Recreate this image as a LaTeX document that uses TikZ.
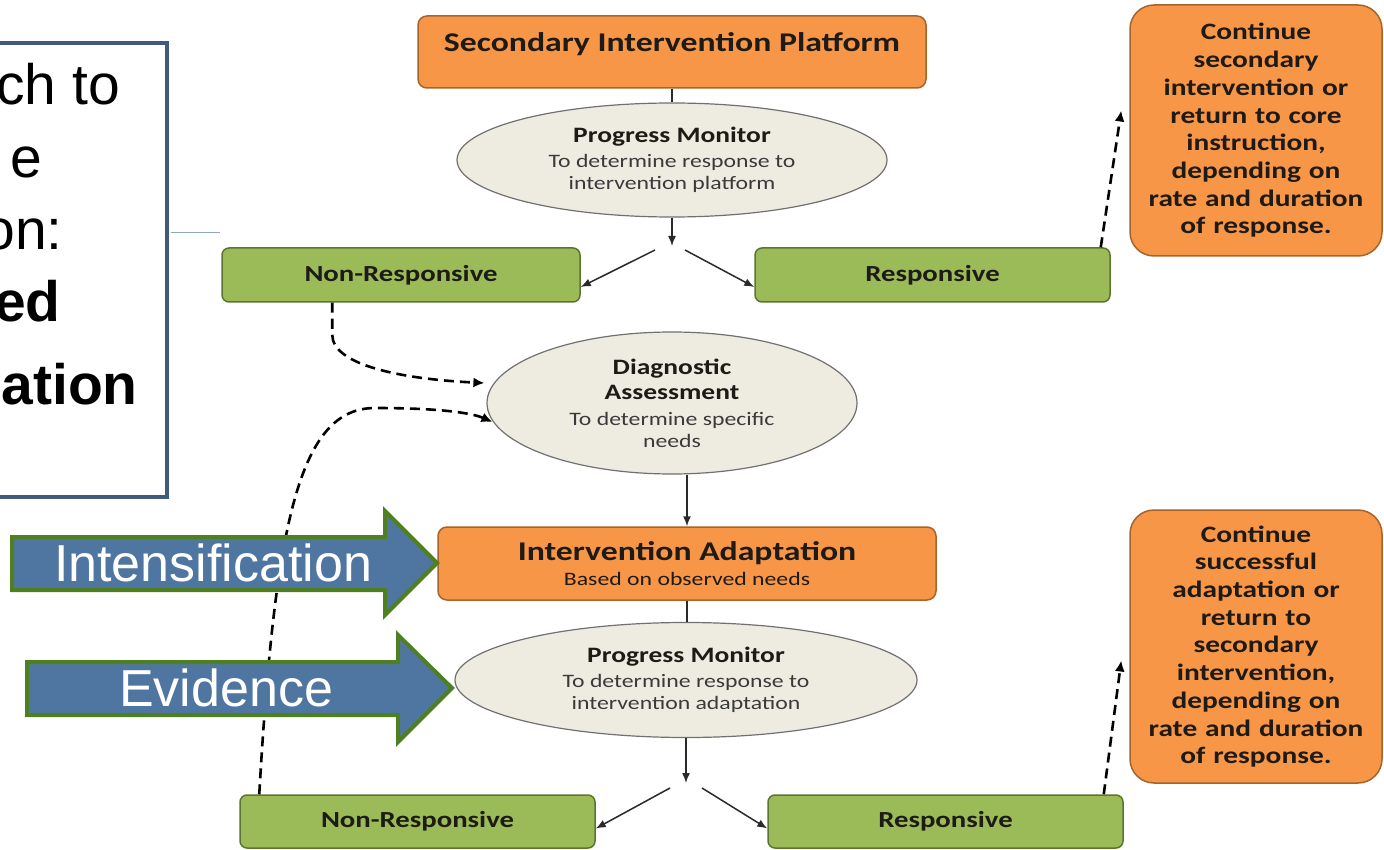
\documentclass[tikz,border=0pt]{standalone}
\usepackage{fontspec}
\setmainfont{Liberation Sans}
\newfontfamily\flow[FakeStretch=1.25]{Carlito}
\usetikzlibrary{shapes.geometric,arrows.meta,calc}

\definecolor{orfill}{HTML}{F79646}
\definecolor{ordraw}{HTML}{A5642C}
\definecolor{grfill}{HTML}{9BBB59}
\definecolor{grdraw}{HTML}{5B7530}
\definecolor{elfill}{HTML}{EEECE1}
\definecolor{eldraw}{HTML}{707070}
\definecolor{bluearrow}{HTML}{4F76A0}
\definecolor{greenedge}{HTML}{4F8020}
\definecolor{framecol}{HTML}{3F5A7C}
\definecolor{thinline}{HTML}{8DA6C6}
\definecolor{ink}{HTML}{1E1A16}
\definecolor{subink}{HTML}{3A3A3A}
\definecolor{connc}{HTML}{2A2A2A}

\newcommand{\smalltxt}{\flow\fontsize{19}{22}\selectfont}
\newcommand{\titletxt}{\bfseries\fontsize{22}{25}\selectfont}

\begin{document}
\begin{tikzpicture}[x=1pt,y=-1pt,
  orbox/.style={draw=ordraw, fill=orfill, line width=1.5pt, rounded corners=9pt, text=ink},
  sidebox/.style={orbox, rounded corners=24pt, text width=244pt, align=center,
    font=\flow\bfseries\fontsize{23.5}{27.7}\selectfont},
  grbox/.style={draw=grdraw, fill=grfill, line width=1.5pt, rounded corners=7pt, text=ink,
    font=\flow\bfseries\fontsize{23}{27}\selectfont},
  oval/.style={ellipse, draw=eldraw, fill=elfill, line width=1.2pt, inner sep=0pt,
    align=center, text=subink, font=\smalltxt},
  conn/.style={draw=connc, line width=1.5pt},
  tip/.style={conn, -{Latex[length=10pt,width=8pt]}},
  dashlink/.style={draw=black, line width=2.6pt, dash pattern=on 10pt off 6pt,
    -{Latex[length=11pt,width=10pt]}},
  bigarrow/.style={fill=bluearrow, draw=greenedge, line width=4pt, line join=miter},
  bigtext/.style={text=white, font=\fontsize{52}{60}\selectfont, inner sep=0pt},
  paneltext/.style={anchor=base east, inner sep=0pt, font=\fontsize{57}{64}\selectfont},
  panelbold/.style={paneltext, font=\bfseries\fontsize{57}{64}\selectfont}
]
\useasboundingbox (0,0) rectangle (1384,850);
\clip (0,0) rectangle (1384,850);

% framed caption panel on the left
\node[draw=framecol, line width=3.5pt, minimum width=187pt, minimum height=454pt, inner sep=0pt] (panel) at (73.5,270) {};
\node[paneltext] (p1) at (120,105) {ch to};
\node[paneltext] (p2) at (42,178) {e};
\node[paneltext] (p3) at (63,250) {on:};
\node[panelbold] (p4) at (61,321) {ed};
\node[panelbold] (p5) at (138,404) {ation};
\coordinate (panelout) at ($(panel.east)+(51,-37)$);
\draw[thinline, line width=1pt] ($(panel.east)+(1.75,-37)$) -- (panelout);

% top stage
\node[orbox, minimum width=508pt, minimum height=72pt] (sip) at (672,52) {};
\node[text=ink, font=\flow\bfseries\fontsize{27}{30}\selectfont, inner sep=0pt] (siptitle) at ($(sip.center)+(0,-8)$) {Secondary Intervention Platform};

\node[oval, minimum width=430pt, minimum height=114pt] (pm1) at (672,160)
  {{\titletxt\color{ink}Progress Monitor}\\[3pt]To determine response to\\intervention platform};

\node[grbox, minimum width=358pt, minimum height=54pt] (nr1) at (401,275) {Non-Responsive};
\node[grbox, minimum width=355pt, minimum height=54pt] (r1) at (932.5,275) {Responsive};

\node[sidebox, minimum width=252pt, minimum height=251pt] (cont1) at (1256,130.5)
  {Continue\\secondary\\intervention or\\return to core\\instruction,\\depending on\\rate and duration\\of response.};

% diagnostic stage
\node[oval, minimum width=370pt, minimum height=142pt] (da) at (672,403)
  {{\titletxt\color{ink}Diagnostic}\\[3pt]{\titletxt\color{ink}Assessment}\\[4pt]To determine specific\\needs};

\node[orbox, minimum width=498pt, minimum height=73pt, align=center, font=\smalltxt] (ia) at (687,563.5)
  {{\bfseries\fontsize{27}{30}\selectfont Intervention Adaptation}\\[3pt]Based on observed needs};

\node[oval, minimum width=462pt, minimum height=115pt] (pm2) at (686,680)
  {{\titletxt\color{ink}Progress Monitor}\\[3pt]To determine response to\\intervention adaptation};

\node[grbox, minimum width=355pt, minimum height=53pt] (nr2) at (417.5,821.5) {Non-Responsive};
\node[grbox, minimum width=355pt, minimum height=53pt] (r2) at (945.5,821.5) {Responsive};

\node[sidebox, minimum width=252pt, minimum height=273pt] (cont2) at (1256,646.5)
  {Continue\\successful\\adaptation or\\return to\\secondary\\intervention,\\depending on\\rate and duration\\of response.};

% solid connectors
\coordinate (fork1) at (672,246);
\draw[conn] (sip.south) -- (pm1.north);
\draw[tip] (pm1.south) -- (fork1);
\draw[tip] ($(fork1)+(-17,4)$) -- ($(nr1.east)+(0,12)$);
\draw[tip] ($(fork1)+(13,4)$) -- ($(r1.west)+(0,12)$);
\draw[tip] (da.south -| ia.north) -- (ia.north);
\draw[conn] (ia.south) -- (ia.south |- pm2.north);
\coordinate (fork2) at (686,783);
\draw[tip] (pm2.south) -- (fork2);
\draw[tip] ($(fork2)+(-16,5)$) -- ($(nr2.east)+(0,7)$);
\draw[tip] ($(fork2)+(16,5)$) -- ($(r2.west)+(0,7)$);

% dashed feedback and exit links
\draw[dashlink] ($(nr1.south west)+(111,0)$) -- ++(0,32)
  .. controls +(0,30) and (400,379) .. ($(da.west)+(-2,-20)$);
\draw[dashlink] ($(nr2.north west)+(20,0)$)
  .. controls (275,520) and (300,408) .. (375,408)
  .. controls (440,408) and (472,413) .. ($(da.west)+(6,19)$);
\draw[dashlink] ($(r1.north east)+(-10,0)$) -- ($(cont1.west)+(-8,-20)$);
\draw[dashlink] ($(r2.north east)+(-20,0)$) -- ($(cont2.west)+(-8,14)$);

% block arrows on the left
\draw[bigarrow] (12,537) -- (385,537) -- (385,511) -- (437,563) -- (385,615) -- (385,590) -- (12,590) -- cycle;
\node[bigtext] (intens) at (213,563) {Intensification};
\draw[bigarrow] (27,662) -- (398,662) -- (398,635) -- (452,688) -- (398,742) -- (398,715) -- (27,715) -- cycle;
\node[bigtext] (evid) at (226,688) {Evidence};
\end{tikzpicture}
\end{document}
